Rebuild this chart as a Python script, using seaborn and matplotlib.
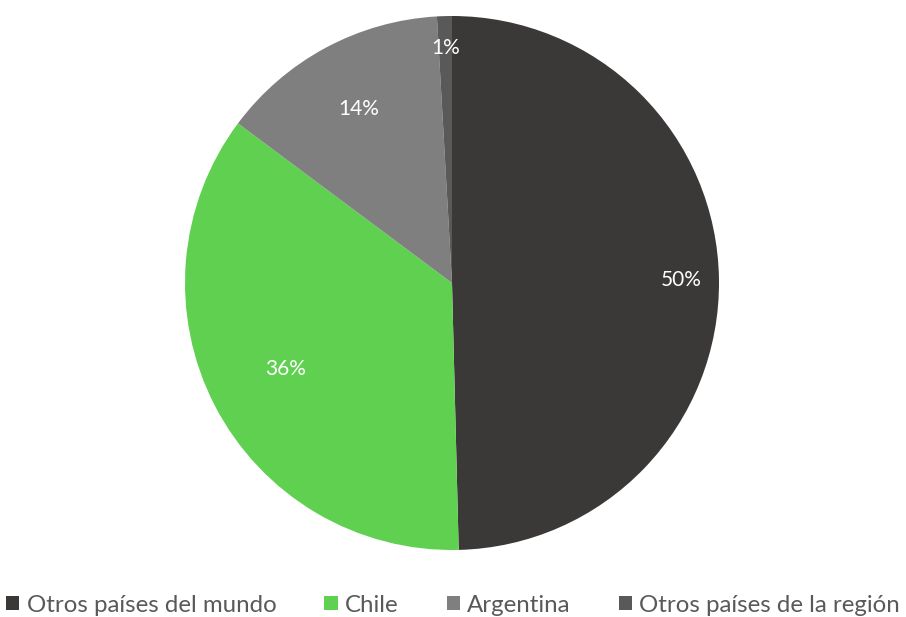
import numpy as np
import matplotlib
matplotlib.use("Agg")
from matplotlib import pyplot as plt
from matplotlib.patches import Patch
import seaborn as sns

categories = ["Otros países del mundo", "Chile", "Argentina", "Otros países de la región"]
shares = [49.6, 35.6, 13.9, 0.9]
colors = ["#3b3838", "#5fd050", "#7f7f7f", "#595959"]
label_radius = [0.86, 0.70, 0.74, 0.88]

sns.set_theme(style="white")
plt.rcParams['font.family'] = ['Lato', 'DejaVu Sans']

fig = plt.figure(figsize=(9.06, 6.17), dpi=100)
cx, cy, r = 452, 283, 267
ax = fig.add_axes([(cx - r) / 906, (617 - cy - r) / 617, 2 * r / 906, 2 * r / 617])

wedges, texts, autotexts = ax.pie(
    shares, colors=colors, startangle=90, counterclock=False, radius=1,
    autopct=lambda p: f"{p:.0f}%", textprops=dict(color="white", fontsize=15),
    wedgeprops=dict(linewidth=0))

# move labels to where excel put them
for w, t, rr in zip(wedges, autotexts, label_radius):
    ang = np.deg2rad((w.theta1 + w.theta2) / 2)
    t.set_position((rr * np.cos(ang), rr * np.sin(ang)))

ax.set_xlim(-1, 1)
ax.set_ylim(-1, 1)
ax.set_aspect("equal")

handles = [Patch(facecolor=c, edgecolor="none") for c in colors]
fig.legend(handles, categories, loc="lower center", bbox_to_anchor=(0.5, -0.033),
           ncol=4, frameon=False, fontsize=17.3, handlelength=0.55, handleheight=0.55,
           handletextpad=0.3, columnspacing=2.0, labelcolor="#595959")

fig.savefig("out.png", dpi=100)
